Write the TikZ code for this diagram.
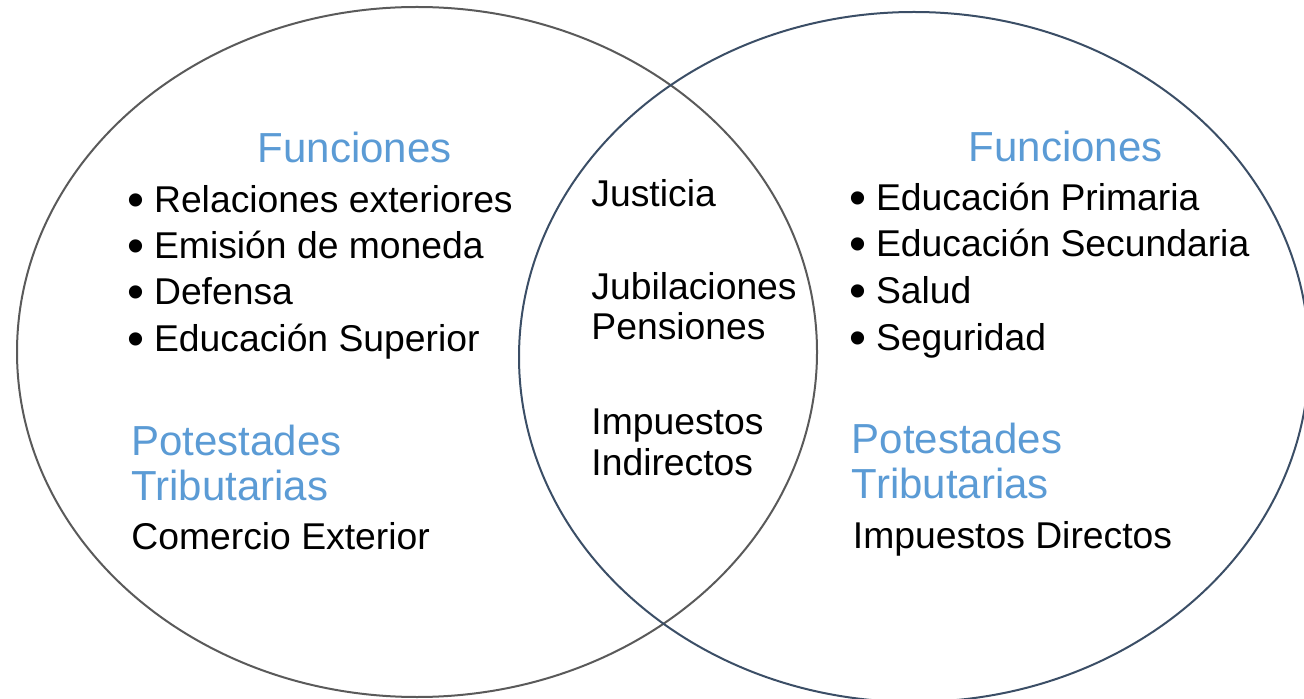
\documentclass[tikz,border=0pt]{standalone}
\usepackage{fontspec}
\setmainfont{Liberation Sans}
\usepackage{graphicx}
\usepackage{xcolor}
\usepackage{tikz}
\definecolor{headblue}{HTML}{5B9BD5}
\definecolor{ringgray}{HTML}{5A5A5A}
\definecolor{ringslate}{HTML}{3B4E66}
\newcommand{\bigdot}{\raisebox{-1.65pt}{\scalebox{1.3}{•}}}
\tikzset{
  ring/.style={line width=1pt},
  heading/.style={anchor=base west, inner sep=0pt, text=headblue, font=\fontsize{21pt}{23pt}\selectfont},
  item/.style={anchor=base west, inner sep=0pt, font=\fontsize{18.65pt}{20pt}\selectfont}
}

\begin{document}
\begin{tikzpicture}[x=0.5pt, y=-0.5pt]
  \useasboundingbox (0,0) rectangle (1304,699);
  \draw[ring, draw=ringgray] (417,352) ellipse [x radius=400, y radius=345];
  \draw[ring, draw=ringslate] (914,357) ellipse [x radius=395, y radius=345];
  % left set
  \node[heading] (lhead) at (257.5,163) {Funciones};
  \node[item] (lfun1) at (126.7,213) {\bigdot\hspace{5pt}Relaciones exteriores};
  \node[item] (lfun2) at (126.7,259) {\bigdot\hspace{5pt}Emisión de moneda};
  \node[item] (lfun3) at (126.7,305) {\bigdot\hspace{5pt}Defensa};
  \node[item] (lfun4) at (126.7,352) {\bigdot\hspace{5pt}Educación Superior};
  \node[heading] (lpot) at (131,455) {Potestades};
  \node[heading] (ltrib) at (131,500) {Tributarias};
  \node[item] (ltax) at (131,549) {Comercio Exterior};
  % shared part
  \node[item] (mjus) at (591,207) {Justicia};
  \node[item] (mjub) at (591,300) {Jubilaciones};
  \node[item] (mpen) at (591,340) {Pensiones};
  \node[item] (mimp) at (591,435) {Impuestos};
  \node[item] (mind) at (591,475) {Indirectos};
  % right set
  \node[heading] (rhead) at (968.5,162) {Funciones};
  \node[item] (rfun1) at (848.7,211) {\bigdot\hspace{5pt}Educación Primaria};
  \node[item] (rfun2) at (848.7,257) {\bigdot\hspace{5pt}Educación Secundaria};
  \node[item] (rfun3) at (848.7,304) {\bigdot\hspace{5pt}Salud};
  \node[item] (rfun4) at (848.7,351) {\bigdot\hspace{5pt}Seguridad};
  \node[heading] (rpot) at (851.5,453) {Potestades};
  \node[heading] (rtrib) at (851.5,498) {Tributarias};
  \node[item] (rtax) at (852.5,548) {Impuestos Directos};
\end{tikzpicture}
\end{document}
